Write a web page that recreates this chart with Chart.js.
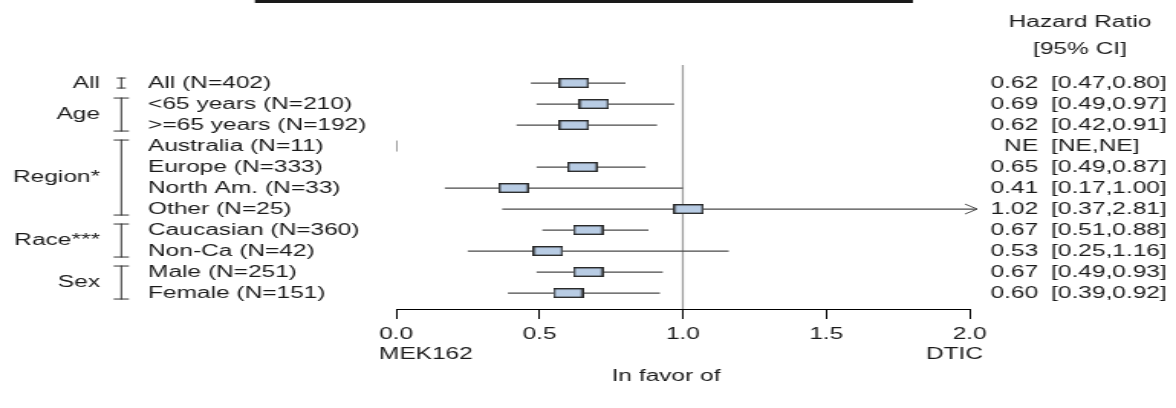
<!DOCTYPE html>
<html>
<head>
<meta charset="utf-8">
<script src="https://cdn.jsdelivr.net/npm/chart.js@4"></script>
<style>
    html, body { margin: 0; padding: 0; background: #fff; overflow: hidden; }
    /* the source figure is stretched sideways, so draw narrow and stretch */
    #wrap { width: 769px; height: 408px; transform: scaleX(1.52926); transform-origin: 0 0; }
    #chart { width: 769px; height: 408px; }
</style>
</head>
<body>
<div id="wrap"><canvas id="chart" width="769" height="408"></canvas></div>
<script>
"use strict";

// Subgroups, top to bottom
var labels = ["All (N=402)", "<65 years (N=210)", ">=65 years (N=192)", "Australia (N=11)",
    "Europe (N=333)", "North Am. (N=33)", "Other (N=25)", "Caucasian (N=360)",
    "Non-Ca (N=42)", "Male (N=251)", "Female (N=151)"];
var hazard = [0.62, 0.69, 0.62, null, 0.65, 0.41, 1.02, 0.67, 0.53, 0.67, 0.60];
var lower = [0.47, 0.49, 0.42, null, 0.49, 0.17, 0.37, 0.51, 0.25, 0.49, 0.39];
var upper = [0.80, 0.97, 0.91, null, 0.87, 1.00, 2.81, 0.88, 1.16, 0.93, 0.92];

// Groups: name, first row, last row
var groupNames = ["All", "Age", "Region*", "Race***", "Sex"];
var groupFirst = [0, 1, 3, 7, 9];
var groupLast = [0, 2, 6, 8, 10];

var xTicks = [0, 0.5, 1, 1.5, 2];

var settings = {
    font: '16px "Liberation Sans", Arial, sans-serif',
    textColor: "#1a1a1a",
    boxFill: "#b8cce4",
    boxEdge: "#2a2a2a",
    ciColor: "#4a4a4a",
    refColor: "#9a9a9a"
};

// box marker used as point style
function makeBox() {
    var c = document.createElement("canvas");
    c.width = 20;
    c.height = 10;
    var g = c.getContext("2d");
    g.fillStyle = settings.boxFill;
    g.fillRect(1, 1, 18, 8);
    g.strokeStyle = settings.boxEdge;
    g.lineWidth = 1.4;
    g.strokeRect(0.7, 0.7, 18.6, 8.6);
    return c;
}

// CI segments, broken by gaps
var ciPoints = [];
var boxPoints = [];
var nePoints = [];
labels.forEach(function (lab, i) {
    if (hazard[i] === null) {
        nePoints.push({x: 0, y: i});
        return;
    }
    ciPoints.push({x: lower[i], y: i});
    ciPoints.push({x: upper[i], y: i});
    ciPoints.push({x: upper[i], y: null});
    boxPoints.push({x: hazard[i], y: i});
});

function fmt(v) {
    return v === null ? "NE" : v.toFixed(2);
}

var textPlugin = {
    id: "forestText",
    afterDraw: function (chart) {
        var ctx = chart.ctx,
            ys = chart.scales.y,
            xs = chart.scales.x,
            area = chart.chartArea;
        ctx.save();
        ctx.font = settings.font;
        ctx.fillStyle = settings.textColor;
        ctx.textBaseline = "middle";

        // rule at the very top
        ctx.fillRect(166.7, 0, 430.3, 3);

        // header
        ctx.textAlign = "center";
        ctx.fillText("Hazard Ratio", 706.2, 23);
        ctx.fillText("[95% CI]", 706.2, 50);

        labels.forEach(function (lab, i) {
            var py = ys.getPixelForValue(i) + 0.5;
            ctx.textAlign = "left";
            ctx.fillText(lab, 96.8, py);
            ctx.textAlign = "right";
            ctx.fillText(fmt(hazard[i]), 678.8, py);
            ctx.textAlign = "left";
            ctx.fillText("[" + fmt(lower[i]) + "," + fmt(upper[i]) + "]", 687.3, py);
        });

        // group names and brackets
        ctx.strokeStyle = "#333";
        ctx.lineWidth = 1;
        groupNames.forEach(function (name, g) {
            var top = ys.getPixelForValue(groupFirst[g]),
                bot = ys.getPixelForValue(groupLast[g]),
                half = groupFirst[g] === groupLast[g] ? 3 : 5,
                ext = groupFirst[g] === groupLast[g] ? 5.5 : 6.5;
            ctx.textAlign = "right";
            ctx.fillText(name, 65.4, (top + bot) / 2 + 0.5);
            ctx.beginPath();
            ctx.moveTo(79.3, top - ext);
            ctx.lineTo(79.3, bot + ext);
            ctx.moveTo(79.3 - half, top - ext + 0.5);
            ctx.lineTo(79.3 + half, top - ext + 0.5);
            ctx.moveTo(79.3 - half, bot + ext - 0.5);
            ctx.lineTo(79.3 + half, bot + ext - 0.5);
            ctx.stroke();
        });

        // arrow for intervals running past the axis
        ctx.strokeStyle = settings.ciColor;
        upper.forEach(function (u, i) {
            if (u !== null && u > xs.max) {
                var tip = area.right + 5,
                    py = ys.getPixelForValue(i);
                ctx.beginPath();
                ctx.moveTo(tip - 8, py - 5);
                ctx.lineTo(tip, py);
                ctx.lineTo(tip - 8, py + 5);
                ctx.stroke();
            }
        });

        // axis captions
        ctx.textAlign = "left";
        ctx.fillText("MEK162", 247.8, 355);
        ctx.textAlign = "right";
        ctx.fillText("DTIC", 642.8, 355);
        ctx.textAlign = "center";
        ctx.fillText("In favor of", 435.5, 377);
        ctx.restore();
    }
};

new Chart(document.getElementById("chart").getContext("2d"), {
    type: "scatter",
    data: {
        datasets: [
            {
                label: "HR",
                data: boxPoints,
                pointStyle: makeBox(),
                order: 0
            },
            {
                label: "NE",
                data: nePoints,
                pointStyle: "line",
                rotation: 90,
                radius: 5.5,
                borderColor: "#444",
                borderWidth: 1,
                order: 1
            },
            {
                label: "CI",
                data: ciPoints,
                showLine: true,
                spanGaps: false,
                pointRadius: 0,
                borderColor: settings.ciColor,
                borderWidth: 1.2,
                clip: {left: 5, right: 5, top: 10, bottom: 10},
                order: 2
            },
            {
                label: "ref",
                data: [{x: 1, y: -0.86}, {x: 1, y: 10.76}],
                showLine: true,
                pointRadius: 0,
                borderColor: settings.refColor,
                borderWidth: 1.2,
                order: 3
            }
        ]
    },
    options: {
        responsive: false,
        devicePixelRatio: 1,
        animation: false,
        events: [],
        layout: {padding: {left: 259, right: 135, top: 65, bottom: 0}},
        plugins: {legend: {display: false}, tooltip: {enabled: false}},
        scales: {
            x: {
                type: "linear",
                min: 0,
                max: 2,
                afterBuildTicks: function (s) {
                    s.ticks = xTicks.map(function (v) { return {value: v}; });
                },
                afterFit: function (s) { s.height = 99; },
                grid: {drawOnChartArea: false, tickLength: 10, color: "#000"},
                border: {display: true, color: "#000", width: 1},
                ticks: {
                    font: {family: '"Liberation Sans", Arial, sans-serif', size: 16},
                    color: settings.textColor,
                    padding: 6,
                    maxRotation: 0,
                    autoSkip: false,
                    callback: function (v) { return Number(v).toFixed(1); }
                }
            },
            y: {
                type: "linear",
                display: false,
                reverse: true,
                min: -0.86,
                max: 10.76
            }
        }
    },
    plugins: [textPlugin]
});
</script>
</body>
</html>
